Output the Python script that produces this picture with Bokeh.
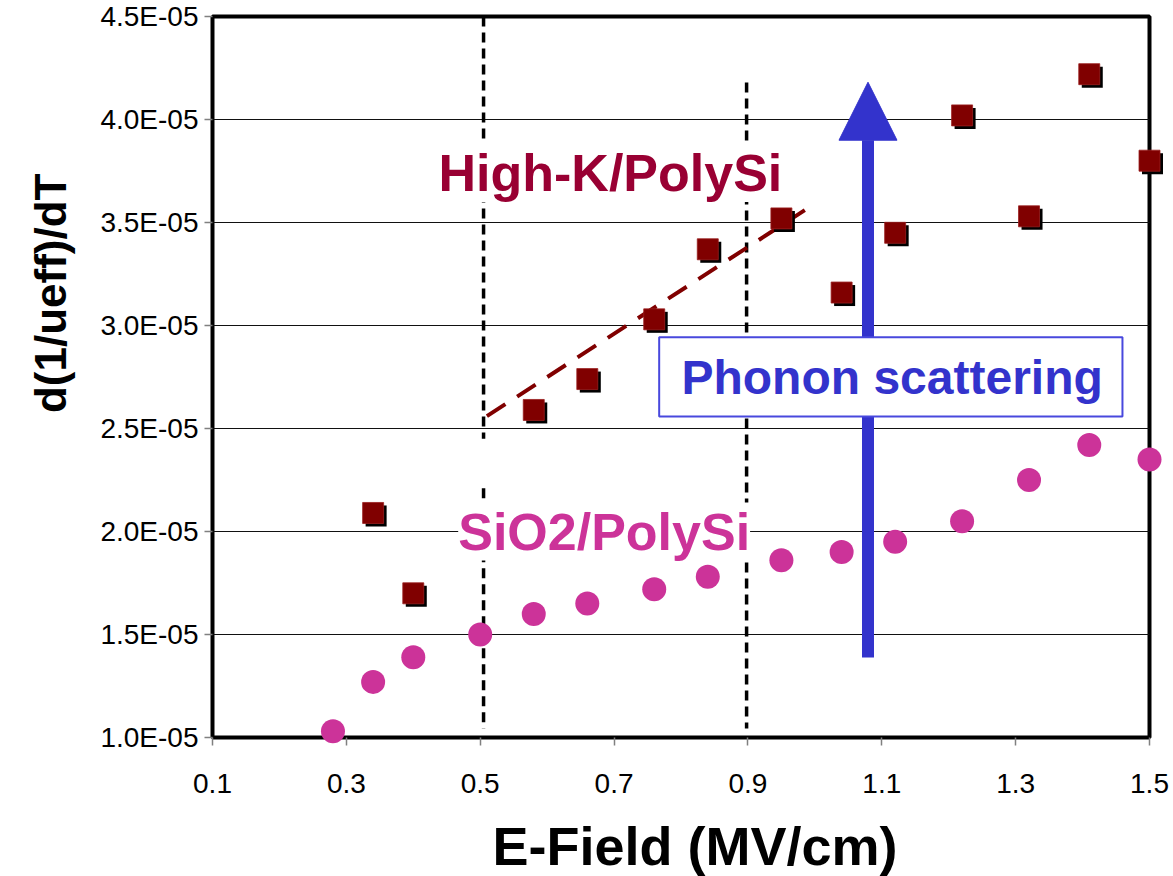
from bokeh.embed import file_html
from bokeh.models import (Arrow, BoxAnnotation, ColumnDataSource, CustomJSTickFormatter,
                          FixedTicker, Label, NormalHead, Range1d, Title)
from bokeh.plotting import figure
from bokeh.resources import INLINE
from bokeh.transform import dodge

# ---- data -------------------------------------------------------------
efield_highk = [0.34, 0.40, 0.58, 0.66, 0.76, 0.84, 0.95, 1.04, 1.12, 1.22, 1.32, 1.41, 1.50]
dmob_highk = [2.09e-5, 1.70e-5, 2.59e-5, 2.74e-5, 3.03e-5, 3.37e-5, 3.52e-5,
              3.16e-5, 3.45e-5, 4.02e-5, 3.53e-5, 4.22e-5, 3.80e-5]

efield_sio2 = [0.28, 0.34, 0.40, 0.50, 0.58, 0.66, 0.76, 0.84, 0.95, 1.04, 1.12, 1.22, 1.32, 1.41, 1.50]
dmob_sio2 = [1.03e-5, 1.27e-5, 1.39e-5, 1.50e-5, 1.60e-5, 1.65e-5, 1.72e-5, 1.78e-5,
             1.86e-5, 1.90e-5, 1.95e-5, 2.05e-5, 2.25e-5, 2.42e-5, 2.35e-5]

# trend guide through the High-K points
trend_x = [0.51, 0.985]
trend_y = [2.56e-5, 3.56e-5]

# vertical field-window guides
guide_x = [0.505, 0.505, 0.898]
guide_y0 = [4.5e-5, 2.21e-5, 4.18e-5]
guide_y1 = [2.45e-5, 1.044e-5, 1.044e-5]

x_ticks = [0.1, 0.3, 0.5, 0.7, 0.9, 1.1, 1.3, 1.5]
x_tick_labels = ["0.1", "0.3", "0.5", "0.7", "0.9", "1.1", "1.3", "1.5"]
y_ticks = [1.0e-5, 1.5e-5, 2.0e-5, 2.5e-5, 3.0e-5, 3.5e-5, 4.0e-5, 4.5e-5]
y_tick_labels = ["1.0E-05", "1.5E-05", "2.0E-05", "2.5E-05",
                 "3.0E-05", "3.5E-05", "4.0E-05", "4.5E-05"]

# ---- styling constants ---------------------------------------------------
FONT = "Liberation Sans"
MAROON = "#800000"
HIGHK_TEXT = "#990033"
PINK = "#CC3399"
BLUE = "#3333CC"

PX_X = 669.3        # pixels per field unit
PX_Y = 206.0e5      # pixels per d(1/ueff)/dT unit

x_lo, x_hi = x_ticks[0], x_ticks[-1]
y_lo, y_hi = y_ticks[0], y_ticks[-1]

p = figure(
    frame_width=959, frame_height=733,
    output_backend="svg", toolbar_location=None,
    x_range=Range1d(x_lo - 8 / PX_X, x_hi + 14 / PX_X),
    y_range=Range1d(y_lo - 8 / PX_Y, y_hi + 4 / PX_Y),
    min_border_left=203, min_border_right=11, min_border_top=12, min_border_bottom=131,
)
p.background_fill_color = "white"
p.border_fill_color = "white"
p.outline_line_color = None
p.xgrid.visible = False
p.ygrid.visible = False

# ---- axes ----------------------------------------------------------------
fmt_code = """
for (let i = 0; i < vals.length; i++) {
    if (Math.abs(vals[i] - tick) <= 1e-6 * Math.abs(vals[i])) { return labels[i]; }
}
return "";
"""
for ax, ticks, labels in ((p.xaxis[0], x_ticks, x_tick_labels), (p.yaxis[0], y_ticks, y_tick_labels)):
    ax.ticker = FixedTicker(ticks=ticks)
    ax.formatter = CustomJSTickFormatter(args=dict(vals=ticks, labels=labels), code=fmt_code)
    ax.axis_line_color = None
    ax.major_tick_in = 8
    ax.major_tick_out = 0
    ax.major_tick_line_color = "#808080"
    ax.major_tick_line_width = 1.5
    ax.minor_tick_line_color = None
    ax.major_label_text_font = FONT
    ax.major_label_text_font_size = "28px"
    ax.major_label_text_color = "black"
p.xaxis[0].major_label_standoff = 28
p.yaxis[0].major_label_standoff = 6

# axis titles
p.add_layout(Title(text="d(1/ueff)/dT", align="right", offset=161, standoff=46,
                   text_font=FONT, text_font_style="bold", text_font_size="44px",
                   text_color="black"), "left")
p.add_layout(Title(text="E-Field (MV/cm)", align="left", offset=288, standoff=36,
                   text_font=FONT, text_font_style="bold", text_font_size="54px",
                   text_color="black"), "below")

# plot frame border
p.add_layout(BoxAnnotation(left=x_lo, right=x_hi, bottom=y_lo, top=y_hi,
                           fill_alpha=0, line_color="black", line_alpha=1.0,
                           line_width=4, level="underlay"))

# horizontal gridlines
grid_y = y_ticks[1:-1]
p.segment(x0=[x_lo] * len(grid_y), x1=[x_hi] * len(grid_y), y0=grid_y, y1=grid_y,
          line_color="#111111", line_width=1)

# vertical dashed guides
p.segment(x0=guide_x, x1=guide_x, y0=guide_y0, y1=guide_y1,
          line_color="black", line_width=3.5, line_dash="10 6")

# High-K trend guide
p.line(trend_x, trend_y, line_color=MAROON, line_width=4, line_dash="22 14")

# ---- series ----------------------------------------------------------------
src_hk = ColumnDataSource(dict(x=efield_highk, y=dmob_highk))
src_si = ColumnDataSource(dict(x=efield_sio2, y=dmob_sio2))

p.scatter(x=dodge("x", 3 / PX_X, range=p.x_range), y=dodge("y", -3 / PX_Y, range=p.y_range),
          source=src_hk, marker="square", size=21, fill_color="black", line_color=None)
p.scatter(x="x", y="y", source=src_hk, marker="square", size=21,
          fill_color=MAROON, line_color="#9a2020", line_width=0.8)
p.scatter(x="x", y="y", source=src_si, marker="circle", size=24,
          fill_color=PINK, line_color=None)

# ---- annotations -----------------------------------------------------------
p.add_layout(Label(x=0.4377, y=3.74e-5, text="High-K/PolySi", text_font=FONT,
                   text_font_style="bold", text_font_size="52px", text_color=HIGHK_TEXT,
                   text_align="left", text_baseline="alphabetic",
                   background_fill_color="white"))
p.add_layout(Label(x=0.4671, y=2.0e-5, text="SiO2/PolySi", text_font=FONT,
                   text_font_style="bold", text_font_size="52px", text_color=PINK,
                   text_align="left", text_baseline="alphabetic",
                   background_fill_color="white"))

p.add_layout(Arrow(end=NormalHead(size=58, fill_color=BLUE, line_color=BLUE, line_width=1),
                   x_start=1.0794, y_start=1.388e-5, x_end=1.0794, y_end=4.181e-5,
                   line_color=BLUE, line_width=12))
p.add_layout(BoxAnnotation(left=0.7674, right=1.4596, bottom=2.558e-5, top=2.943e-5,
                           fill_color="white", fill_alpha=1.0,
                           line_color="#4848DD", line_alpha=1.0, line_width=2))
p.add_layout(Label(x=0.8007, y=2.7475e-5, text="Phonon scattering", text_font=FONT,
                   text_font_style="bold", text_font_size="48px", text_color=BLUE,
                   text_align="left", text_baseline="alphabetic"))

open("out.html", "w").write(file_html(p, INLINE))
